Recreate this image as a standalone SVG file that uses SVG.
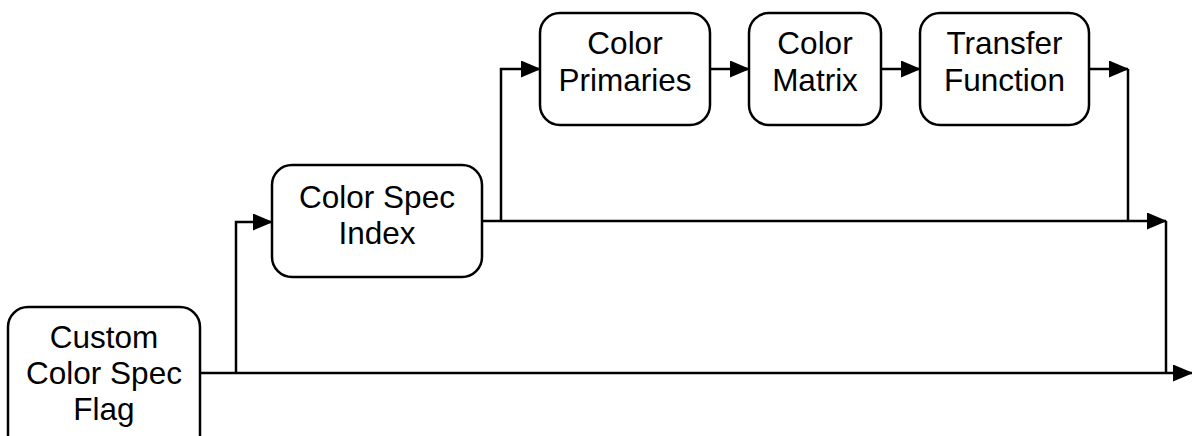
<svg xmlns="http://www.w3.org/2000/svg" width="1192" height="436" viewBox="0 0 1192 436">
<style>
.box{fill:#fff;stroke:#000;stroke-width:2.5}
.lbl{font-family:"Liberation Sans",Arial,sans-serif;font-size:31.5px;fill:#000;text-anchor:middle}
.ln{fill:none;stroke:#000;stroke-width:2.5}
</style>
<defs>
<marker id="ah" markerUnits="userSpaceOnUse" markerWidth="20" markerHeight="17" refX="19" refY="8.5" orient="auto">
<path d="M0,0 L20,8.5 L0,17 z" fill="#000"/>
</marker>
</defs>
<rect width="1192" height="436" fill="#fff"/>
<g id="connectors">
<path class="ln" d="M200 373 H1192" marker-end="url(#ah)"/>
<path class="ln" d="M236 373 V222 H272" marker-end="url(#ah)"/>
<path class="ln" d="M482 221 H1166" marker-end="url(#ah)"/>
<path class="ln" d="M501 221 V69 H540" marker-end="url(#ah)"/>
<path class="ln" d="M710 69 H749" marker-end="url(#ah)"/>
<path class="ln" d="M881 69 H920" marker-end="url(#ah)"/>
<path class="ln" d="M1089 69 H1128" marker-end="url(#ah)"/>
<path class="ln" d="M1128 69 V221"/>
<path class="ln" d="M1166 221 V373"/>
</g>
<g id="custom-color-spec-flag">
<rect class="box" x="8" y="307" width="192" height="150" rx="20"/>
<text class="lbl" x="104" y="348">Custom</text>
<text class="lbl" x="104" y="384">Color Spec</text>
<text class="lbl" x="104" y="420">Flag</text>
</g>
<g id="color-spec-index">
<rect class="box" x="272" y="165" width="210" height="112" rx="20"/>
<text class="lbl" x="377" y="208">Color Spec</text>
<text class="lbl" x="377" y="244">Index</text>
</g>
<g id="color-primaries">
<rect class="box" x="540" y="13" width="170" height="112" rx="20"/>
<text class="lbl" x="625" y="54">Color</text>
<text class="lbl" x="625" y="91">Primaries</text>
</g>
<g id="color-matrix">
<rect class="box" x="749" y="13" width="132" height="112" rx="20"/>
<text class="lbl" x="815" y="54">Color</text>
<text class="lbl" x="815" y="91">Matrix</text>
</g>
<g id="transfer-function">
<rect class="box" x="920" y="13" width="169" height="112" rx="20"/>
<text class="lbl" x="1004.5" y="54">Transfer</text>
<text class="lbl" x="1004.5" y="91">Function</text>
</g>
</svg>
